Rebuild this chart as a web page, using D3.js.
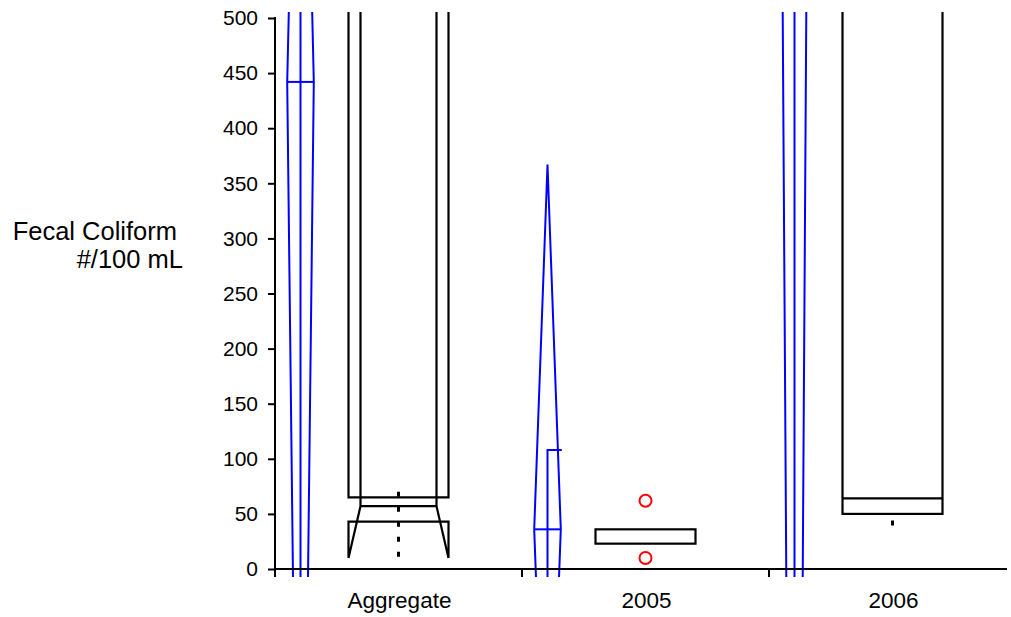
<!DOCTYPE html>
<html><head><meta charset="utf-8">
<script src="https://cdn.jsdelivr.net/npm/d3@7"></script>
<style>body{margin:0;background:#fff}svg{display:block}text{font-family:"Liberation Sans",Arial,sans-serif;fill:#000}</style>
</head><body><svg id="c" width="1011" height="617"></svg>
<script>
// ---- data ----
const categories = ["Aggregate", "2005", "2006"];
const yTicks = [0, 50, 100, 150, 200, 250, 300, 350, 400, 450, 500];
// means diamonds (blue)
const diamondMean = [442, 36, 720];
const diamondUpper = [966, 367, 2600];
const diamondLower = [-590, -290, -1180];
// blue centre bar
const barLow = [-200, -200, -200];
const barHigh = [1200, 108, 1500];
// black boxes
const boxQ1 = [10, 23, 50];
const boxQ3 = [900, 36, 900];
const boxMedian = [57, null, 64];
const notchLo = [43, null, null];
const notchHi = [65, null, null];
const whiskerLo = [10, null, 39];
const whiskerHi = [70, null, 44];
const outlierCat = ["2005", "2005"];
const outlierVal = [62, 10];

// ---- layout ----
const svg = d3.select("#c");
const x = d3.scaleBand().domain(categories).range([275, 1016]).padding(0);
const y = d3.scaleLinear().domain([0, 500]).range([569, 18]);
const dOff = 25.5, dHalf = 13.3, boxHalf = 50, notchHalf = 38;
const blue = "#0000ff";

svg.append("clipPath").attr("id", "clip").append("rect")
  .attr("x", 276).attr("y", 12).attr("width", 735).attr("height", 565);
const g = svg.append("g").attr("clip-path", "url(#clip)");

// black boxes
categories.forEach((c, i) => {
  const cx = x(c) + x.bandwidth() / 2;
  const L = cx - boxHalf, R = cx + boxHalf;
  const bg = g.append("g").attr("fill", "none").attr("stroke", "#000").attr("stroke-width", 2.2);
  if (whiskerLo[i] != null) {
    bg.append("line").attr("x1", cx).attr("x2", cx)
      .attr("y1", y(whiskerHi[i])).attr("y2", y(whiskerLo[i]))
      .attr("stroke-width", 3).attr("stroke-dasharray", "5,10");
  }
  if (notchLo[i] != null) {
    const nL = cx - notchHalf, nR = cx + notchHalf;
    bg.append("path").attr("d",
      `M${L},${y(boxQ3[i])}V${y(notchHi[i])}H${R}V${y(boxQ3[i])}` +
      `M${nL},${y(boxQ3[i])}V${y(boxMedian[i])}H${nR}V${y(boxQ3[i])}` +
      `M${nL},${y(boxMedian[i])}L${L},${y(boxQ1[i])}` +
      `M${nR},${y(boxMedian[i])}L${R},${y(boxQ1[i])}` +
      `M${L},${y(boxQ1[i])}V${y(notchLo[i])}H${R}V${y(boxQ1[i])}`);
  } else {
    bg.append("rect").attr("x", L).attr("width", R - L)
      .attr("y", y(boxQ3[i])).attr("height", y(boxQ1[i]) - y(boxQ3[i]));
    if (boxMedian[i] != null)
      bg.append("line").attr("x1", L).attr("x2", R)
        .attr("y1", y(boxMedian[i])).attr("y2", y(boxMedian[i]));
  }
});

// outliers
g.selectAll("circle.out").data(outlierVal).join("circle")
  .attr("cx", (d, k) => x(outlierCat[k]) + x.bandwidth() / 2)
  .attr("cy", d => y(d)).attr("r", 6)
  .attr("fill", "none").attr("stroke", "#ff0000").attr("stroke-width", 2);

// blue diamonds + centre bars
categories.forEach((c, i) => {
  const cx = x(c) + dOff;
  const bg = g.append("g").attr("fill", "none").attr("stroke", blue).attr("stroke-width", 2);
  bg.append("path").attr("d",
    `M${cx},${y(diamondUpper[i])}L${cx - dHalf},${y(diamondMean[i])}L${cx},${y(diamondLower[i])}` +
    `L${cx + dHalf},${y(diamondMean[i])}Z`);
  bg.append("line").attr("x1", cx - dHalf).attr("x2", cx + dHalf)
    .attr("y1", y(diamondMean[i])).attr("y2", y(diamondMean[i]));
  bg.append("path").attr("d",
    `M${cx},${y(barLow[i])}V${y(barHigh[i])}H${cx + dHalf + 1}`);
});

// y axis
const ya = svg.append("g").attr("transform", "translate(275,0)")
  .call(d3.axisLeft(y).tickValues(yTicks).tickSize(7).tickPadding(10).tickSizeOuter(0));
ya.select(".domain").remove();
ya.selectAll(".tick line").attr("stroke", "#000").attr("stroke-width", 2);
ya.selectAll(".tick text").attr("font-size", 21).style("font-family", "'Liberation Sans',Arial,sans-serif");
svg.append("line").attr("x1", 275).attr("x2", 275).attr("y1", y(500) - 1).attr("y2", y(0) + 8)
  .attr("stroke", "#000").attr("stroke-width", 2);

// x axis
svg.append("line").attr("x1", 274).attr("x2", 1007).attr("y1", y(0)).attr("y2", y(0))
  .attr("stroke", "#000").attr("stroke-width", 2);
categories.slice(1).forEach(c => {
  svg.append("line").attr("x1", x(c)).attr("x2", x(c)).attr("y1", y(0)).attr("y2", y(0) + 8)
    .attr("stroke", "#000").attr("stroke-width", 2);
});
svg.selectAll("text.cat").data(categories).join("text").attr("class", "cat")
  .attr("x", d => x(d) + x.bandwidth() / 2 + 1).attr("y", 608)
  .attr("text-anchor", "middle").attr("font-size", 22.5).text(d => d);

// y title
svg.append("text").attr("x", 177).attr("y", 240).attr("text-anchor", "end").attr("font-size", 25.5).text("Fecal Coliform");
svg.append("text").attr("x", 183).attr("y", 268).attr("text-anchor", "end").attr("font-size", 25.5).text("#/100 mL");
</script></body></html>
